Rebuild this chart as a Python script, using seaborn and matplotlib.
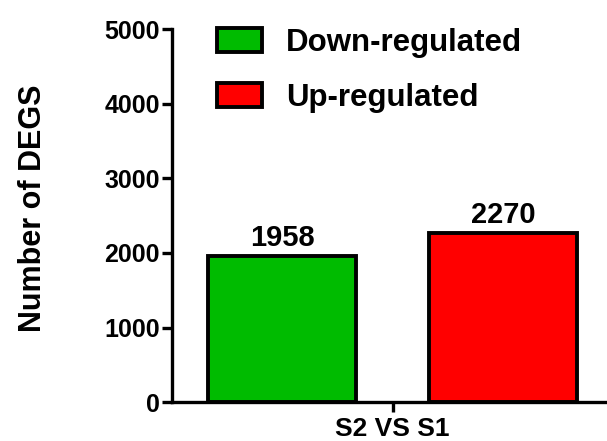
import matplotlib
matplotlib.use('Agg')
import matplotlib.pyplot as plt
import seaborn as sns
import pandas as pd
from matplotlib.patches import Patch

# Données
comparison = ['S2 VS S1', 'S2 VS S1']
regulation = ['Down-regulated', 'Up-regulated']
counts = [1958, 2270]
bar_colors = ['#00BB00', '#FF0000']
yticks = [0, 1000, 2000, 3000, 4000, 5000]

sns.set_style('ticks')
plt.rcParams['font.family'] = ['Liberation Sans', 'DejaVu Sans']
plt.rcParams['font.weight'] = 'bold'
plt.rcParams['text.color'] = 'black'
plt.rcParams['axes.labelcolor'] = 'black'
plt.rcParams['axes.edgecolor'] = 'black'
plt.rcParams['xtick.color'] = 'black'
plt.rcParams['ytick.color'] = 'black'

df = pd.DataFrame({'comparison': comparison, 'regulation': regulation, 'count': counts})

fig = plt.figure(figsize=(6.07, 4.41), dpi=100)
ax = fig.add_axes([0.283, 0.088, 0.728, 0.846])

sns.barplot(data=df, x='comparison', y='count', hue='regulation',
            palette=bar_colors, gap=0.33, edgecolor='black', linewidth=2.8,
            saturation=1, legend=False, ax=ax)

for container in ax.containers:
    ax.bar_label(container, fontsize=21, fontweight='bold', padding=3, color='black')

ax.set_xlim(-0.4, 0.4)
ax.set_ylim(0, 5000)
ax.set_yticks(yticks)
ax.set_xlabel('')
ax.set_ylabel('Number of DEGS', fontsize=22, fontweight='bold')
ax.yaxis.set_label_coords(-0.28, 0.52)

sns.despine(ax=ax)
for side in ['left', 'bottom']:
    ax.spines[side].set_linewidth(2.4)
ax.tick_params(axis='both', width=2.4, length=7, direction='out')
ax.tick_params(axis='y', labelsize=18, pad=1.5)
ax.tick_params(axis='x', labelsize=19, pad=4)

handles = [Patch(facecolor=c, edgecolor='black', linewidth=2.8) for c in bar_colors]
fig.legend(handles, regulation, loc='upper left', bbox_to_anchor=(0.3575, 0.937),
           frameon=False, fontsize=22.5, borderpad=0, borderaxespad=0,
           handlelength=1.45, handleheight=0.78, handletextpad=0.75, labelspacing=0.8)

plt.savefig('out.png', dpi=100)
plt.close()
